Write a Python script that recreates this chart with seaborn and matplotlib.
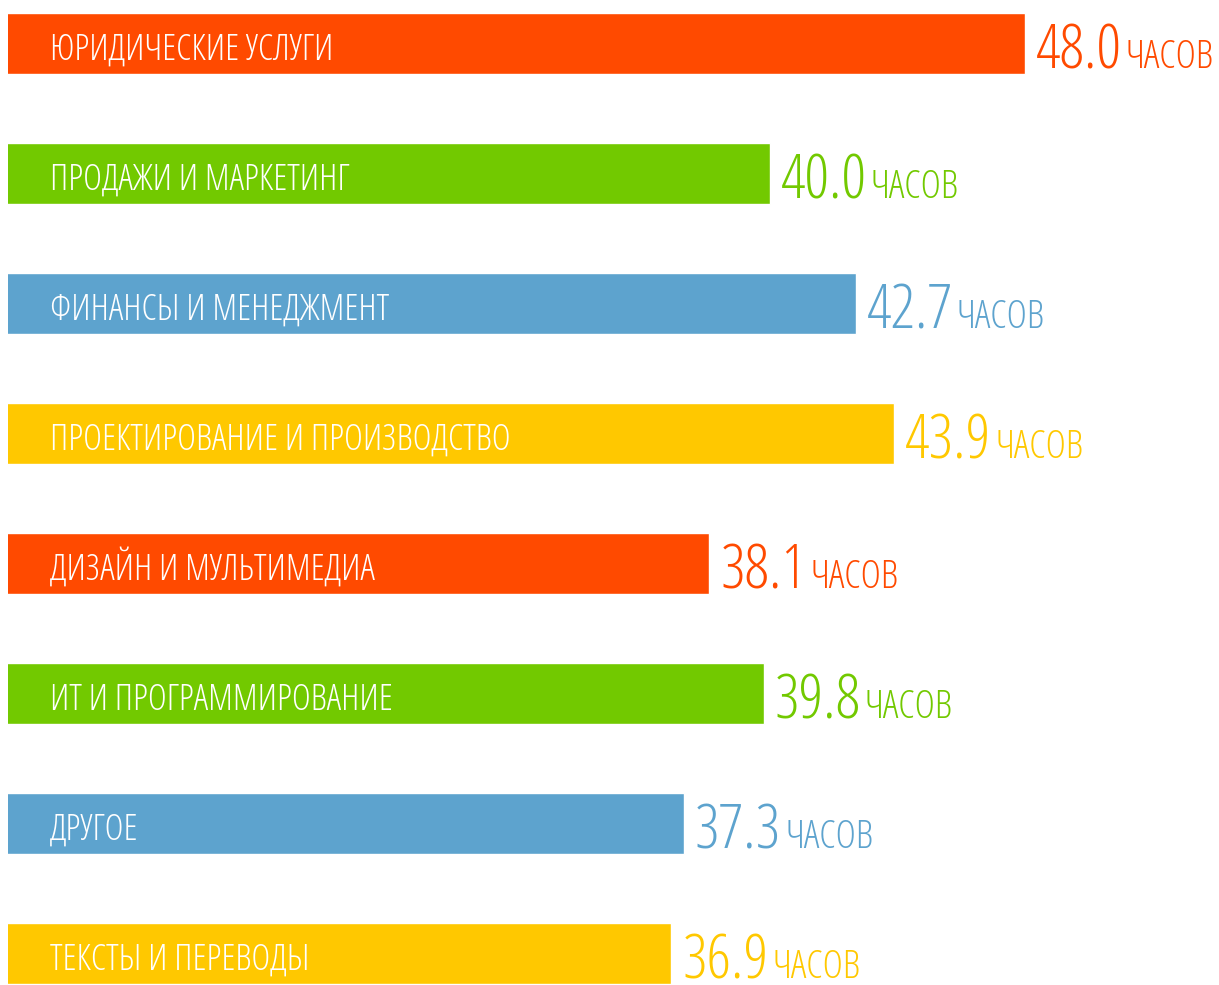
import pandas as pd
import matplotlib.pyplot as plt
import seaborn as sns

# Hours per category
categories = ['ЮРИДИЧЕСКИЕ УСЛУГИ', 'ПРОДАЖИ И МАРКЕТИНГ', 'ФИНАНСЫ И МЕНЕДЖМЕНТ',
              'ПРОЕКТИРОВАНИЕ И ПРОИЗВОДСТВО', 'ДИЗАЙН И МУЛЬТИМЕДИА',
              'ИТ И ПРОГРАММИРОВАНИЕ', 'ДРУГОЕ', 'ТЕКСТЫ И ПЕРЕВОДЫ']
hours = [48.0, 40.0, 42.7, 43.9, 38.1, 39.8, 37.3, 36.9]
unit = 'ЧАСОВ'
colors = ['#FF4A00', '#72C900', '#5DA3CE', '#FFC800',
          '#FF4A00', '#72C900', '#5DA3CE', '#FFC800']

df = pd.DataFrame({'category': categories, 'hours': hours})

sns.set_style('white')
plt.rcParams['font.family'] = ['Open Sans', 'DejaVu Sans']
txt = dict(fontstretch='condensed', fontweight='light')

fig = plt.figure(figsize=(12.19, 9.85), dpi=100)
ax = fig.add_axes([8 / 1219, 0, 1211 / 1219, 1])

sns.barplot(data=df, x='hours', y='category', hue='category', palette=colors,
            saturation=1, orient='h', width=0.47, legend=False, ax=ax)

# axis does not start at zero in the original
ax.set_xlim(16.07, 16.07 + 1211 / 31.84)
ax.set_ylim(7.242, -0.335)
ax.axis('off')

for i, (cat, h, c) in enumerate(zip(categories, hours, colors)):
    ax.annotate(cat, xy=(ax.get_xlim()[0], i + 0.125), xytext=(42, 0),
                textcoords='offset pixels', color='white', fontsize=26,
                va='baseline', ha='left', **txt)
    num = ax.annotate(f'{h:.1f}', xy=(h, i + 0.19), xytext=(11, 0),
                      textcoords='offset pixels', color=c, fontsize=44,
                      va='baseline', ha='left', **txt)
    # unit sits on the same baseline, just right of the number
    ax.annotate(unit, xy=(1, i + 0.19), xycoords=(num, 'data'), xytext=(4, 0),
                textcoords='offset pixels', color=c, fontsize=28,
                va='baseline', ha='left', **txt)

fig.savefig('out.png', dpi=100)
plt.close()
